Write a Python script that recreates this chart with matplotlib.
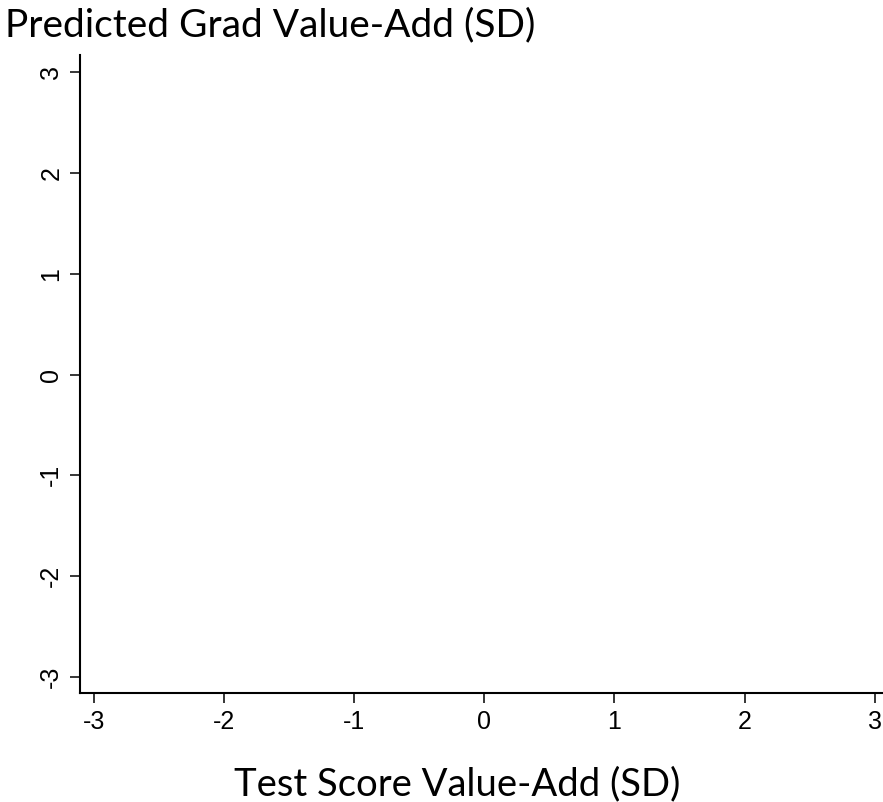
import matplotlib
matplotlib.use("Agg")
import matplotlib.pyplot as plt

# axis setup for the value-add comparison (no points plotted yet)
x_ticks = [-3, -2, -1, 0, 1, 2, 3]
y_ticks = [-3, -2, -1, 0, 1, 2, 3]
x_limits = (-3.11, 3.065)
y_limits = (-3.16, 3.17)
title_text = "Predicted Grad Value-Add (SD)"
xlabel_text = "Test Score Value-Add (SD)"

W, H = 883, 802
fig = plt.figure(figsize=(W / 100, H / 100), dpi=100)
ax = fig.add_axes([80 / W, 109 / H, 803 / W, 638 / H])

ax.set_xlim(*x_limits)
ax.set_ylim(*y_limits)
ax.set_xticks(x_ticks)
ax.set_yticks(y_ticks)
ax.set_xticklabels([str(v) for v in x_ticks])
ax.set_yticklabels([str(v) for v in y_ticks], rotation=90, va="center")

for side in ["top", "right"]:
    ax.spines[side].set_visible(False)
for side in ["left", "bottom"]:
    ax.spines[side].set_linewidth(1.5)
    ax.spines[side].set_color("black")

ax.tick_params(direction="out", length=7, width=1.1, pad=5,
               labelsize=18, colors="black")
for lbl in ax.get_xticklabels() + ax.get_yticklabels():
    lbl.set_family("Liberation Sans")

fig.text(5 / W, 1 - 7 / H, title_text, ha="left", va="top",
         fontsize=28, family="Lato")
fig.text(457 / W, 1 - 795 / H, xlabel_text, ha="center", va="baseline",
         fontsize=27.5, family="Lato")

fig.savefig("out.png", dpi=100)
